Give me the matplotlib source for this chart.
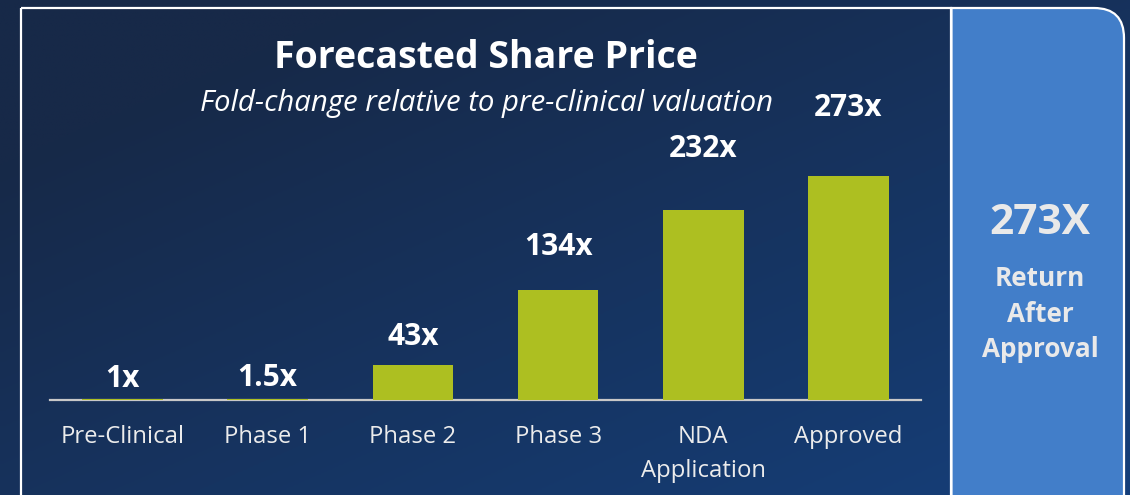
import matplotlib.pyplot as plt
import numpy as np
from matplotlib.patches import Rectangle, PathPatch
from matplotlib.path import Path

plt.rcParams['font.family'] = ['Open Sans', 'DejaVu Sans']

# dati
fasi = ['Pre-Clinical', 'Phase 1', 'Phase 2', 'Phase 3', 'NDA\nApplication', 'Approved']
multipli = [1, 1.5, 43, 134, 232, 273]
etichette = ['1x', '1.5x', '43x', '134x', '232x', '273x']
titolo_box = '273X'
testo_box = 'Return\nAfter\nApproval'

W, H = 1130, 495
fig = plt.figure(figsize=(W / 100, H / 100), dpi=100)

# sfondo sfumato in diagonale
bg = fig.add_axes([0, 0, 1, 1])
bg.set_axis_off()
gx, gy = np.meshgrid(np.linspace(0, 1, 200), np.linspace(0, 1, 200))
t = np.clip(0.6 * gx + 0.6 * (1 - gy) - 0.2, 0, 1)
c0 = np.array([0x17, 0x29, 0x48]) / 255
c1 = np.array([0x15, 0x3f, 0x7a]) / 255
img = c0[None, None, :] * (1 - t[..., None]) + c1[None, None, :] * t[..., None]
bg.imshow(img, extent=[0, W, 0, H], origin='upper', aspect='auto')
bg.set_xlim(0, W)
bg.set_ylim(H, 0)

# cornice bianca del grafico
bg.add_patch(Rectangle((21, 8), 930, 500, fill=False, edgecolor='white', linewidth=1.6))

# box a destra, angoli arrotondati solo a destra
x0, x1, y0, y1, r = 951.5, 1124, 8, 520, 30
verts = [(x0, y0), (x1 - r, y0), (x1, y0), (x1, y0 + r), (x1, y1), (x0, y1), (x0, y0)]
codes = [Path.MOVETO, Path.LINETO, Path.CURVE3, Path.CURVE3, Path.LINETO, Path.LINETO,
         Path.CLOSEPOLY]
bg.add_patch(PathPatch(Path(verts, codes), facecolor='#427ec9', edgecolor='white',
                       linewidth=1.6))
bg.text(1040, 223, titolo_box, ha='center', va='center', color='#e9e9e9',
        fontsize=30.5, fontweight='bold')
bg.text(1040, 314, testo_box, ha='center', va='center', color='#e9e9e9',
        fontsize=18.8, fontweight='bold', linespacing=1.42)

# titolo
bg.text(486, 58, 'Forecasted Share Price', ha='center', va='center', color='white',
        fontsize=27, fontweight='bold')
bg.text(486, 103, 'Fold-change relative to pre-clinical valuation', ha='center',
        va='center', color='white', fontsize=21.2, style='italic')

# grafico a barre
ax = fig.add_axes([50 / W, (H - 400) / H, 871 / W, 300 / H])
ax.patch.set_alpha(0)
x = np.arange(len(fasi))
ymax = 300 / 0.8205
ax.bar(x, multipli, width=0.555, color='#adbf21', zorder=3)
ax.set_xlim(-0.5, 5.5)
ax.set_ylim(0, ymax)

# etichette valori sopra le barre
for i, v in enumerate(multipli):
    ax.text(i, v * 1.213 + 24.5, etichette[i], ha='center', va='center',
            color='white', fontsize=21.5, fontweight='bold', clip_on=False)

for s in ['top', 'right', 'left']:
    ax.spines[s].set_visible(False)
ax.spines['bottom'].set_color('#c8c8c8')
ax.spines['bottom'].set_linewidth(1.6)
ax.set_yticks([])
ax.set_xticks(x)
ax.set_xticklabels(fasi, fontsize=17.2, color='#ececec', linespacing=1.53)
ax.tick_params(axis='x', length=0, pad=18)

fig.savefig('out.png', dpi=100)
